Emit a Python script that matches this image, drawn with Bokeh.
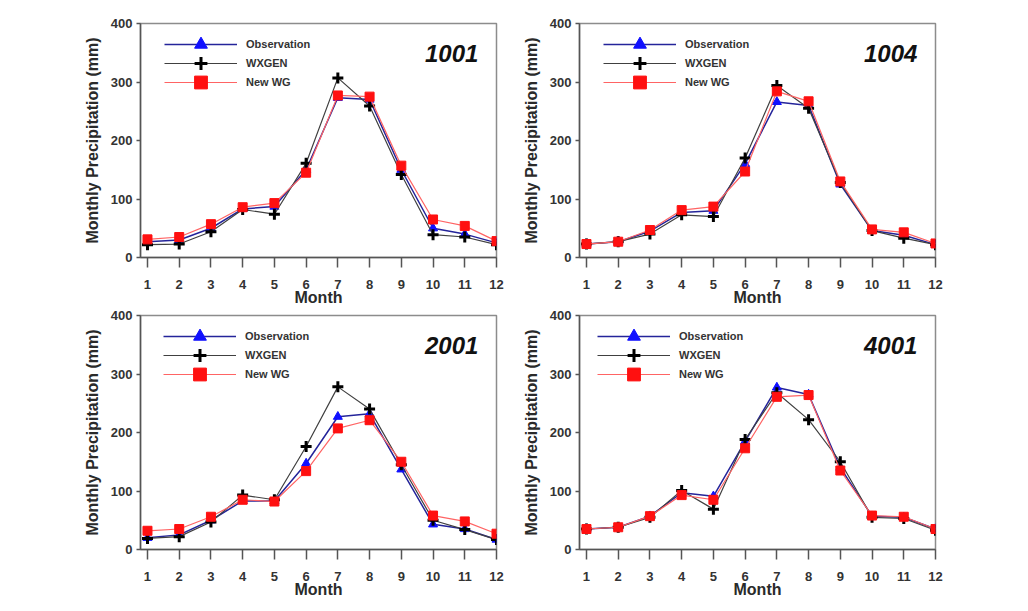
from bokeh.plotting import figure
from bokeh.models import Range1d, FixedTicker, Legend, LegendItem, Label
from bokeh.layouts import gridplot
from bokeh.embed import file_html
from bokeh.resources import INLINE

months = list(range(1, 13))
stations = ["1001", "1004", "2001", "4001"]

obs_1001 = [27, 30, 50, 83, 87, 150, 273, 270, 150, 50, 40, 25]
wxg_1001 = [22, 23, 44, 82, 74, 161, 307, 259, 142, 39, 35, 22]
new_1001 = [31, 35, 57, 86, 93, 145, 277, 275, 157, 65, 54, 28]

obs_1004 = [23, 27, 45, 77, 80, 160, 266, 260, 125, 46, 38, 22]
wxg_1004 = [23, 27, 40, 73, 70, 170, 294, 255, 128, 46, 33, 22]
new_1004 = [23, 27, 47, 81, 87, 147, 284, 267, 130, 48, 43, 24]

obs_2001 = [20, 25, 50, 83, 83, 147, 227, 232, 137, 43, 35, 17]
wxg_2001 = [19, 22, 47, 93, 85, 176, 278, 240, 145, 50, 34, 17]
new_2001 = [32, 35, 56, 85, 82, 134, 207, 221, 150, 58, 48, 27]

obs_4001 = [35, 38, 57, 97, 91, 185, 277, 265, 140, 57, 55, 35]
wxg_4001 = [35, 38, 55, 101, 69, 188, 268, 222, 150, 55, 53, 33]
new_4001 = [35, 38, 57, 93, 85, 173, 261, 264, 135, 58, 56, 35]

series = {
    "1001": (obs_1001, wxg_1001, new_1001),
    "1004": (obs_1004, wxg_1004, new_1004),
    "2001": (obs_2001, wxg_2001, new_2001),
    "4001": (obs_4001, wxg_4001, new_4001),
}
labels = ["Observation", "WXGEN", "New WG"]
y_ticks = [0, 100, 200, 300, 400]

FONT = "Liberation Sans"


def make_panel(name, left, right, top, bottom, legend_x):
    obs, wxg, new = series[name]
    p = figure(frame_width=356, frame_height=234,
               min_border_left=left, min_border_right=right,
               min_border_top=top, min_border_bottom=bottom,
               x_range=Range1d(0.78, 12.0), y_range=Range1d(0, 400),
               output_backend="svg", toolbar_location=None,
               background_fill_color="white", border_fill_color="white")
    p.grid.visible = False
    p.outline_line_color = "#8c8c8c"
    p.outline_line_width = 1.5

    p.xaxis.ticker = FixedTicker(ticks=months)
    p.yaxis.ticker = FixedTicker(ticks=y_ticks)
    p.xaxis.minor_tick_line_color = None
    p.yaxis.minor_tick_line_color = None
    p.xaxis.major_tick_in = 0
    p.xaxis.major_tick_out = 10
    p.yaxis.major_tick_in = 0
    p.yaxis.major_tick_out = 4
    for ax in (p.xaxis, p.yaxis):
        ax.axis_line_color = "#555555"
        ax.axis_line_width = 1.5
        ax.major_tick_line_color = "#555555"
        ax.major_tick_line_width = 1.5
        ax.major_label_text_font = FONT
        ax.major_label_text_font_style = "bold"
        ax.major_label_text_font_size = "13px"
        ax.major_label_text_color = "#333333"
        ax.axis_label_text_font = FONT
        ax.axis_label_text_font_style = "bold"
        ax.axis_label_text_font_size = "16px"
        ax.axis_label_text_color = "#2a2a2a"
    p.xaxis.axis_label = "Month"
    p.yaxis.axis_label = "Monthly Precipitation (mm)"
    p.xaxis.major_label_standoff = 12
    p.xaxis.axis_label_standoff = -3
    p.yaxis.major_label_standoff = 4
    p.yaxis.axis_label_standoff = 7

    l1 = p.line(months, obs, line_color="#24249a", line_width=1.5)
    m1 = p.scatter(months, obs, marker="triangle", size=9,
                   fill_color="#1010ff", line_color="#1010ff")
    l2 = p.line(months, wxg, line_color="#404040", line_width=1.2)
    m2 = p.scatter(months, wxg, marker="cross", size=11,
                   line_color="black", line_width=3)
    l3 = p.line(months, new, line_color="#ff6464", line_width=1.2)
    m3 = p.scatter(months, new, marker="square", size=9,
                   fill_color="#ff1010", line_color="#ff1010")

    rends = [[l1, m1], [l2, m2], [l3, m3]]
    for i, (lab, rr) in enumerate(zip(labels, rends)):
        legend = Legend(items=[LegendItem(label=lab, renderers=rr)],
                        location=(legend_x, 197 - 19 * i),
                        glyph_width=73, glyph_height=32, spacing=0,
                        label_height=16, label_standoff=9,
                        padding=0, margin=0,
                        border_line_color=None, background_fill_alpha=0,
                        label_text_font=FONT, label_text_font_style="bold",
                        label_text_font_size="11px",
                        label_text_color="#333333")
        p.add_layout(legend)

    p.add_layout(Label(x=11.43, y=349, text=name, text_align="right",
                       text_baseline="middle", text_font=FONT,
                       text_font_style="bold italic", text_font_size="24px",
                       text_color="#111111"))
    return p


p1 = make_panel("1001", 140, 21, 23, 50, 24)
p2 = make_panel("1004", 62, 20, 23, 50, 24)
p3 = make_panel("2001", 140, 21, 7, 50, 23)
p4 = make_panel("4001", 62, 20, 7, 50, 18)

grid = gridplot([[p1, p2], [p3, p4]], toolbar_location=None)

open("out.html", "w").write(file_html(grid, INLINE))
